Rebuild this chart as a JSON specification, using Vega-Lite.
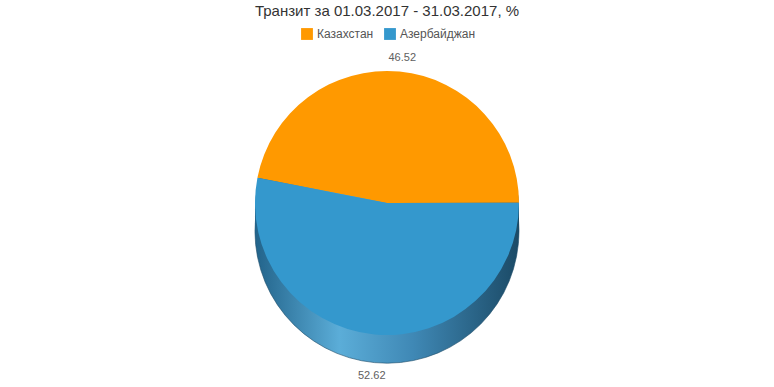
{
  "$schema": "https://vega.github.io/schema/vega-lite/v6.json",
  "width": 774,
  "height": 387,
  "autosize": {"type": "fit", "contains": "padding"},
  "padding": {"top": 4, "bottom": 4, "left": 5, "right": 5},
  "background": "white",
  "title": {
    "text": "Транзит за 01.03.2017 - 31.03.2017, %",
    "font": "Liberation Sans",
    "fontSize": 15,
    "fontWeight": "normal",
    "color": "#333333",
    "offset": 4
  },
  "config": {"view": {"stroke": null}},
  "data": {
    "values": [
      {"country": "Казахстан", "value": 46.52},
      {"country": "Азербайджан", "value": 52.62}
    ]
  },
  "layer": [
    {
      "transform": [{"aggregate": [{"op": "sum", "field": "value", "as": "total"}]}],
      "mark": {"type": "arc", "radius": 132, "yOffset": 28, "stroke": "#1d4c68", "strokeWidth": 0.6,
        "fill": {"gradient": "linear", "x1": 0, "y1": 0, "x2": 1, "y2": 0,
          "stops": [{"offset": 0, "color": "#22638a"}, {"offset": 0.32, "color": "#5badd8"}, {"offset": 0.6, "color": "#3f88b5"}, {"offset": 1, "color": "#1b4a66"}]}},
      "encoding": {"theta": {"field": "total", "type": "quantitative", "stack": true, "scale": {"range": [-1.3788, 4.9044]}}}
    },
    {
      "transform": [{"aggregate": [{"op": "sum", "field": "value", "as": "total"}]}],
      "mark": {"type": "arc", "radius": 132, "yOffset": 21,
        "fill": {"gradient": "linear", "x1": 0, "y1": 0, "x2": 1, "y2": 0,
          "stops": [{"offset": 0, "color": "#22638a"}, {"offset": 0.32, "color": "#5badd8"}, {"offset": 0.6, "color": "#3f88b5"}, {"offset": 1, "color": "#1b4a66"}]}},
      "encoding": {"theta": {"field": "total", "type": "quantitative", "stack": true}}
    },
    {
      "transform": [{"aggregate": [{"op": "sum", "field": "value", "as": "total"}]}],
      "mark": {"type": "arc", "radius": 132, "yOffset": 14,
        "fill": {"gradient": "linear", "x1": 0, "y1": 0, "x2": 1, "y2": 0,
          "stops": [{"offset": 0, "color": "#22638a"}, {"offset": 0.32, "color": "#5badd8"}, {"offset": 0.6, "color": "#3f88b5"}, {"offset": 1, "color": "#1b4a66"}]}},
      "encoding": {"theta": {"field": "total", "type": "quantitative", "stack": true}}
    },
    {
      "transform": [{"aggregate": [{"op": "sum", "field": "value", "as": "total"}]}],
      "mark": {"type": "arc", "radius": 132, "yOffset": 7,
        "fill": {"gradient": "linear", "x1": 0, "y1": 0, "x2": 1, "y2": 0,
          "stops": [{"offset": 0, "color": "#22638a"}, {"offset": 0.32, "color": "#5badd8"}, {"offset": 0.6, "color": "#3f88b5"}, {"offset": 1, "color": "#1b4a66"}]}},
      "encoding": {"theta": {"field": "total", "type": "quantitative", "stack": true}}
    },
    {
      "mark": {"type": "arc", "radius": 132},
      "encoding": {
        "theta": {"field": "value", "type": "quantitative", "stack": true},
        "order": {"field": "value", "sort": "ascending"},
        "color": {
          "field": "country",
          "type": "nominal",
          "scale": {"domain": ["Казахстан", "Азербайджан"], "range": ["#ff9900", "#3498cd"]},
          "legend": {
            "orient": "none",
            "legendX": 296,
            "legendY": 5,
            "direction": "horizontal",
            "title": null,
            "symbolType": "square",
            "symbolSize": 140,
            "symbolStrokeWidth": 0,
            "labelFont": "Liberation Sans",
            "labelFontSize": 12,
            "labelColor": "#555555",
            "columnPadding": 10
          }
        }
      }
    },
    {
      "mark": {"type": "text", "radius": 160, "yOffset": 14, "font": "Liberation Sans", "fontSize": 11, "color": "#606060"},
      "encoding": {
        "theta": {"field": "value", "type": "quantitative", "stack": true},
        "order": {"field": "value", "sort": "ascending"},
        "text": {"field": "value", "type": "quantitative", "format": ".2f"}
      }
    }
  ]
}
